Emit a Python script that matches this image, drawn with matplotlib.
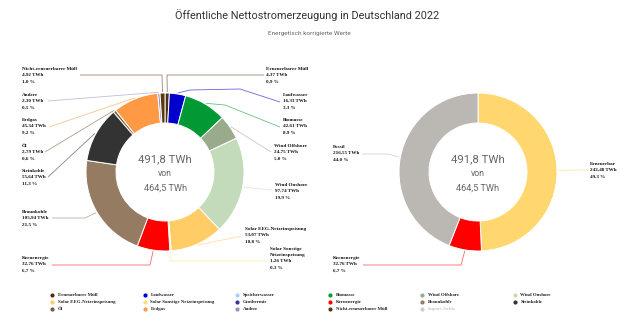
import matplotlib
matplotlib.use('Agg')
import matplotlib.pyplot as plt
import numpy as np

# left donut data (TWh), clockwise from the top
names = ["Erneuerbarer Müll", "Laufwasser", "Biomasse", "Wind Offshore", "Wind Onshore",
         "Solar EEG-Netzeinspeisung", "Solar Sonstige Netzeinspeisung", "Kernenergie",
         "Braunkohle", "Steinkohle", "Öl", "Erdgas", "Andere", "Nicht-erneuerbarer Müll"]
values = [4.37, 16.33, 42.61, 24.75, 97.74, 53.07, 1.26, 32.76, 105.94, 55.64, 2.79, 45.34, 2.30, 4.92]
percents = [0.9, 3.3, 8.9, 5.0, 19.9, 10.8, 0.3, 6.7, 21.5, 11.3, 0.6, 9.2, 0.5, 1.0]
colors = ["#4f3010", "#0000cc", "#009933", "#9aab8c", "#c3dbbb", "#ffcc66", "#ffdd77", "#ff0000",
          "#957b61", "#333333", "#7b5c3e", "#ff9944", "#9a8fc4", "#5a3a12"]

# right donut data
names2 = ["Erneuerbar", "Kernenergie", "Fossil"]
values2 = [242.48, 32.76, 216.55]
percents2 = [49.3, 6.7, 44.0]
colors2 = ["#ffd76e", "#ff0000", "#bbb7b3"]

total_text = "491,8 TWh"
sub_text = "464,5 TWh"

# legend entries
leg_names = ["Erneuerbarer Müll", "Laufwasser", "Speicherwasser", "Biomasse", "Wind Offshore", "Wind Onshore",
             "Solar EEG-Netzeinspeisung", "Solar Sonstige Netzeinspeisung", "Geothermie", "Kernenergie", "Braunkohle", "Steinkohle",
             "Öl", "Erdgas", "Andere", "Nicht-erneuerbarer Müll", "Import-Saldo"]
leg_colors = ["#4f3010", "#0000cc", "#aaccff", "#009933", "#9aab8c", "#c3dbbb",
              "#ffcc66", "#ffdd77", "#333399", "#ff0000", "#957b61", "#333333",
              "#7b5c3e", "#ff9944", "#9a8fc4", "#5a3a12", "#cccccc"]

H = 323
def Y(y):
    return H - y

fig = plt.figure(figsize=(6.4, 3.23), dpi=100)
ax = fig.add_axes([0, 0, 1, 1])

R = 79
W = 30
C1 = (165, 172)
C2 = (478, 172)

def donut(vals, cols, c):
    ax.pie(vals, colors=cols, startangle=90, counterclock=False, radius=R, center=(c[0], Y(c[1])),
           wedgeprops=dict(width=W, edgecolor='white', linewidth=0.7), frame=True)

def anchors(vals, c):
    v = np.array(vals, dtype=float)
    cum = np.cumsum(v) - v / 2
    ang = cum / v.sum() * 2 * np.pi
    return [(c[0] + (R + 1) * np.sin(a), c[1] - (R + 1) * np.cos(a)) for a in ang]

donut(values, colors, C1)
donut(values2, colors2, C2)

lab_font = dict(family='Liberation Serif', fontweight='bold', fontsize=3.7, color='#111111')

def fmt(v):
    return ("%.2f" % v).replace('.', ',') + " TWh"

def pfmt(p):
    return ("%.1f" % p).replace('.', ',') + " %"

def label(name, v, p, col, anc, tx, ty, conn, bends):
    txt = name + "\n" + fmt(v) + "\n" + pfmt(p)
    ax.text(tx, Y(ty), txt, va='center', ha='left', linespacing=1.75, **lab_font)
    pts = [conn] + bends + [anc]
    ax.plot([q[0] for q in pts], [Y(q[1]) for q in pts], color=col, lw=0.6, alpha=0.6,
            solid_capstyle='butt')

# layout for labels: text x, middle-row y, connector start, bend points
lay = {
    "Erneuerbarer Müll": (266, 75, (264, 75), [(167, 75)]),
    "Laufwasser": (283, 101, (280, 102), [(240, 89), (190, 90)]),
    "Biomasse": (283, 126, (280, 127), [(225, 105)]),
    "Wind Offshore": (274, 152, (271, 152), []),
    "Wind Onshore": (275, 191, (272, 190), [(250, 188)]),
    "Solar EEG-Netzeinspeisung": (245, 235, (242, 236), []),
    "Solar Sonstige Netzeinspeisung": (270, 261, (267, 261), [(170, 261)]),
    "Kernenergie": (22, 264, (52, 265), [(150, 265)]),
    "Braunkohle": (22, 218, (52, 218), [(85, 218)]),
    "Steinkohle": (22, 177, (48, 177), []),
    "Öl": (22, 152, (45, 152), []),
    "Erdgas": (22, 126, (49, 127), []),
    "Andere": (22, 101, (48, 101), []),
    "Nicht-erneuerbarer Müll": (22, 75, (80, 75), [(162, 75)]),
}

anc1 = anchors(values, C1)
for i, n in enumerate(names):
    tx, ty, conn, bends = lay[n]
    disp = n
    if n == "Solar Sonstige Netzeinspeisung":
        disp = "Solar Sonstige\nNetzeinspeisung"
        ty = ty - 3
    label(disp, values[i], percents[i], colors[i], anc1[i], tx, ty, conn, bends)

lay2 = {
    "Erneuerbar": (590, 170, (589, 170), []),
    "Kernenergie": (333, 264, (363, 265), [(461, 265)]),
    "Fossil": (333, 153, (362, 154), [(388, 154)]),
}
anc2 = anchors(values2, C2)
for i, n in enumerate(names2):
    tx, ty, conn, bends = lay2[n]
    label(n, values2[i], percents2[i], colors2[i], anc2[i], tx, ty, conn, bends)

# centre text
for c in (C1, C2):
    ax.text(c[0], Y(159), total_text, ha='center', va='center', fontsize=8.2, color='#666666', family='Roboto')
    ax.text(c[0], Y(174), "von", ha='center', va='center', fontsize=6.3, color='#666666', family='Roboto')
    ax.text(c[0], Y(188), sub_text, ha='center', va='center', fontsize=6.6, color='#666666', family='Roboto')

# title
ax.text(307, Y(15), "Öffentliche Nettostromerzeugung in Deutschland 2022", ha='center', va='center',
        fontsize=7.8, color='#333333', family='Roboto')
ax.text(309, Y(33), "Energetisch korrigierte Werte", ha='center', va='center',
        fontsize=4.6, color='#666666', family='Roboto')

# legend
for i, n in enumerate(leg_names):
    r = i // 6
    k = i % 6
    lx = 52 + k * 92.5
    ly = 295 + r * 7
    ax.scatter([lx], [Y(ly)], s=9, color=leg_colors[i], linewidths=0)
    tc = '#cccccc' if n == "Import-Saldo" else '#222222'
    ax.text(lx + 6, Y(ly), n, ha='left', va='center', family='Liberation Serif', fontweight='bold',
            fontsize=3.5, color=tc)

ax.set_xlim(0, 640)
ax.set_ylim(0, H)
ax.set_aspect('auto')
ax.axis('off')

fig.savefig("out.png", dpi=100)
